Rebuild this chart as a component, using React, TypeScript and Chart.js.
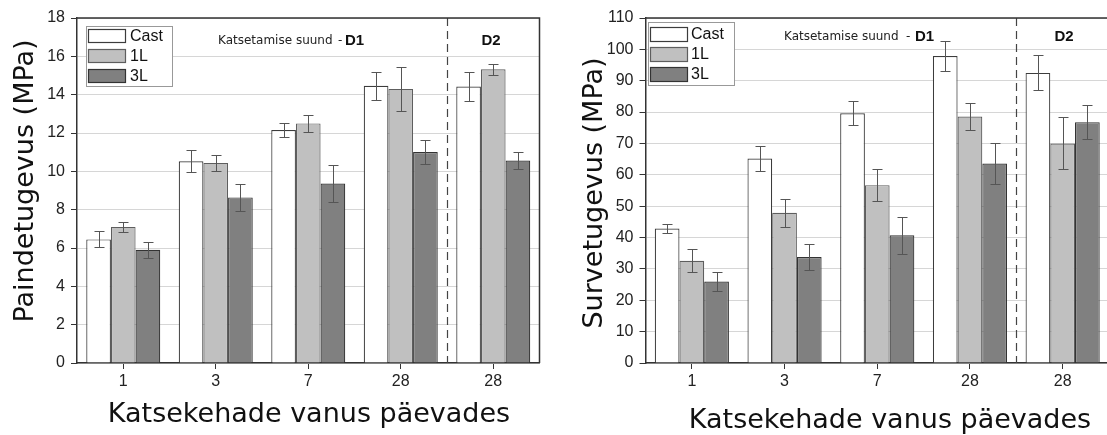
import React, { useEffect, useRef } from 'react';
import { Chart, registerables } from 'chart.js';

Chart.register(...registerables);

// ---------- data ----------
const categories = ['1', '3', '7', '28', '28'];
const seriesNames = ['Cast', '1L', '3L'];

// Paindetugevus (MPa)
const bendCast = [6.45, 10.52, 12.16, 14.46, 14.43];
const bendCastErr = [0.42, 0.57, 0.36, 0.73, 0.74];
const bend1L = [7.1, 10.44, 12.5, 14.3, 15.32];
const bend1LErr = [0.26, 0.4, 0.44, 1.14, 0.3];
const bend3L = [5.91, 8.64, 9.36, 11.01, 10.56];
const bend3LErr = [0.41, 0.71, 0.95, 0.63, 0.45];

// Survetugevus (MPa)
const compCast = [42.9, 65.2, 79.6, 97.9, 92.5];
const compCastErr = [1.3, 3.9, 3.8, 4.8, 5.6];
const comp1L = [32.6, 47.9, 56.7, 78.6, 70.0];
const comp1LErr = [3.7, 4.5, 5.1, 4.2, 8.3];
const comp3L = [26.0, 33.8, 40.7, 63.6, 76.8];
const comp3LErr = [2.9, 4.0, 6.0, 6.4, 5.5];

const xTitleText = 'Katsekehade vanus päevades';
const noteText = 'Katsetamise suund';
const d1Text = 'D1';
const d2Text = 'D2';

// ---------- styles ----------
const FILLS = ['#ffffff', '#c0c0c0', '#808080'];
const BORDERS = ['#3c3c3c', '#5e5e5e', '#333333'];
const TICK_FONT = { family: '"Liberation Sans", Arial, sans-serif', size: 16 };
const BIG_FONT = '27px "DejaVu Sans"';

type Deco = {
  yTitle: string;
  yTitleBaseX: number;
  yTitleCY: number;
  xTitleCX: number;
  xTitleBaseY: number;
  legend: { x: number; y: number; w: number; h: number; swX: number; swW: number; swH: number; swY: number[]; textX: number };
  note: { textX: number; dashX: number; d1X: number; cy: number; d2CX: number };
  errors: number[][];
};

function decoPlugin(d: Deco) {
  return {
    id: 'deco',
    afterDatasetsDraw(chart: any) {
      const { ctx, chartArea: a, scales } = chart;
      const xs = scales.x;
      const ys = scales.y;
      ctx.save();

      // dashed separator between D1 and D2
      const dx = Math.round((xs.getPixelForTick(3) + xs.getPixelForTick(4)) / 2) + 0.5;
      ctx.strokeStyle = '#444';
      ctx.lineWidth = 1.2;
      ctx.setLineDash([8, 5]);
      ctx.beginPath();
      ctx.moveTo(dx, a.top);
      ctx.lineTo(dx, a.bottom);
      ctx.stroke();
      ctx.setLineDash([]);

      // error bars
      ctx.strokeStyle = '#555';
      ctx.lineWidth = 1;
      chart.data.datasets.forEach((ds: any, di: number) => {
        const meta = chart.getDatasetMeta(di);
        meta.data.forEach((bar: any, i: number) => {
          const v = ds.data[i];
          const e = d.errors[di][i];
          const x = Math.round(bar.x) + 0.5;
          const yt = Math.round(ys.getPixelForValue(v + e)) + 0.5;
          const yb = Math.round(ys.getPixelForValue(v - e)) + 0.5;
          ctx.beginPath();
          ctx.moveTo(x, yt);
          ctx.lineTo(x, yb);
          ctx.moveTo(x - 5, yt);
          ctx.lineTo(x + 5, yt);
          ctx.moveTo(x - 5, yb);
          ctx.lineTo(x + 5, yb);
          ctx.stroke();
        });
      });

      // frame top / right
      ctx.strokeStyle = '#333';
      ctx.lineWidth = 1.5;
      ctx.beginPath();
      ctx.moveTo(a.left, a.top);
      ctx.lineTo(a.right, a.top);
      ctx.lineTo(a.right, a.bottom);
      ctx.stroke();

      // legend
      const L = d.legend;
      ctx.fillStyle = '#fff';
      ctx.fillRect(L.x, L.y, L.w, L.h);
      ctx.strokeStyle = '#999';
      ctx.lineWidth = 1;
      ctx.strokeRect(L.x + 0.5, L.y + 0.5, L.w, L.h);
      ctx.font = '16px "Liberation Sans", Arial, sans-serif';
      ctx.textBaseline = 'middle';
      ctx.textAlign = 'left';
      seriesNames.forEach((name, i) => {
        ctx.fillStyle = FILLS[i];
        ctx.fillRect(L.swX, L.swY[i], L.swW, L.swH);
        ctx.strokeStyle = BORDERS[i];
        ctx.lineWidth = 1.2;
        ctx.strokeRect(L.swX + 0.5, L.swY[i] + 0.5, L.swW, L.swH);
        ctx.fillStyle = '#111';
        ctx.fillText(name, L.textX, L.swY[i] + L.swH / 2 + 1);
      });

      // direction notes
      const N = d.note;
      ctx.fillStyle = '#222';
      ctx.font = '12px "DejaVu Sans"';
      ctx.textBaseline = 'middle';
      ctx.fillText(noteText, N.textX, N.cy);
      ctx.fillText('-', N.dashX, N.cy);
      ctx.fillStyle = '#111';
      ctx.font = 'bold 15px "Liberation Sans", Arial, sans-serif';
      ctx.fillText(d1Text, N.d1X, N.cy);
      ctx.textAlign = 'center';
      ctx.fillText(d2Text, N.d2CX, N.cy);

      // axis titles
      ctx.fillStyle = '#111';
      ctx.font = BIG_FONT;
      ctx.textAlign = 'center';
      ctx.textBaseline = 'alphabetic';
      ctx.fillText(xTitleText, d.xTitleCX, d.xTitleBaseY);
      ctx.save();
      ctx.translate(d.yTitleBaseX, d.yTitleCY);
      ctx.rotate(-Math.PI / 2);
      ctx.fillText(d.yTitle, 0, 0);
      ctx.restore();

      ctx.restore();
    },
  };
}

function makeConfig(
  values: number[][],
  yMax: number,
  yStep: number,
  yWidth: number,
  padRight: number,
  deco: Deco
): any {
  return {
    type: 'bar',
    data: {
      labels: categories,
      datasets: values.map((vals, i) => ({
        label: seriesNames[i],
        data: vals,
        backgroundColor: FILLS[i],
        borderColor: BORDERS[i],
        borderWidth: 1.2,
        barPercentage: 1,
        categoryPercentage: 0.8,
      })),
    },
    options: {
      responsive: false,
      animation: false,
      devicePixelRatio: 1,
      layout: { padding: { top: 18, right: padRight, left: 0, bottom: 0 } },
      plugins: { legend: { display: false }, tooltip: { enabled: false } },
      scales: {
        x: {
          offset: true,
          grid: { display: true, drawOnChartArea: false, drawTicks: true, tickLength: 6, tickColor: '#333', offset: false },
          border: { display: true, color: '#333', width: 1.5 },
          ticks: { color: '#222', font: TICK_FONT, padding: 3, maxRotation: 0 },
          afterFit: (s: any) => {
            s.height = 435 - 363;
          },
        },
        y: {
          min: 0,
          max: yMax,
          ticks: { stepSize: yStep, color: '#222', font: TICK_FONT, padding: 6 },
          grid: { color: '#d6d6d6', lineWidth: 1, drawTicks: true, tickLength: 6, tickColor: '#333' },
          border: { display: true, color: '#333', width: 1.5 },
          afterFit: (s: any) => {
            s.width = yWidth;
          },
        },
      },
    },
    plugins: [decoPlugin(deco)],
  };
}

function ChartCanvas({ make, left, width }: { make: () => any; left: number; width: number }) {
  const ref = useRef<HTMLCanvasElement>(null);
  useEffect(() => {
    const chart = new Chart(ref.current as HTMLCanvasElement, make());
    return () => chart.destroy();
  }, []);
  return (
    <canvas
      ref={ref}
      width={width}
      height={435}
      style={{ position: 'absolute', left, top: 0, width, height: 435 }}
    />
  );
}

export default function App() {
  const leftDeco: Deco = {
    yTitle: 'Paindetugevus (MPa)',
    yTitleBaseX: 33,
    yTitleCY: 181,
    xTitleCX: 309,
    xTitleBaseY: 422,
    legend: { x: 86, y: 26, w: 86, h: 60, swX: 88, swW: 37, swH: 13, swY: [29, 49, 69], textX: 130 },
    note: { textX: 218, dashX: 338, d1X: 345, cy: 41, d2CX: 491 },
    errors: [bendCastErr, bend1LErr, bend3LErr],
  };
  const rightDeco: Deco = {
    yTitle: 'Survetugevus (MPa)',
    yTitleBaseX: 42,
    yTitleCY: 193,
    xTitleCX: 330,
    xTitleBaseY: 428,
    legend: { x: 88, y: 22, w: 86, h: 63, swX: 90, swW: 37, swH: 14, swY: [27, 47, 67], textX: 131 },
    note: { textX: 224, dashX: 346, d1X: 355, cy: 37, d2CX: 504 },
    errors: [compCastErr, comp1LErr, comp3LErr],
  };
  return (
    <div
      style={{
        position: 'fixed',
        left: 0,
        top: 0,
        width: 1107,
        height: 435,
        overflow: 'hidden',
        background: '#fff',
      }}
    >
      <ChartCanvas
        left={0}
        width={560}
        make={() => makeConfig([bendCast, bend1L, bend3L], 18, 2, 77, 20.5, leftDeco)}
      />
      <ChartCanvas
        left={560}
        width={560}
        make={() => makeConfig([compCast, comp1L, comp3L], 110, 10, 85.5, 11, rightDeco)}
      />
    </div>
  );
}
